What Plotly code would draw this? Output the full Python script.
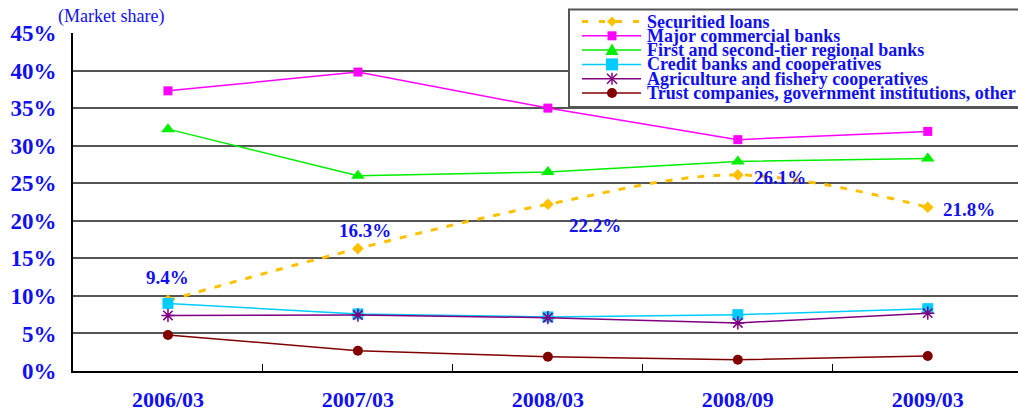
import plotly.graph_objects as go

periods = ["2006/03", "2007/03", "2008/03", "2008/09", "2009/03"]

securitized = [9.4, 16.3, 22.2, 26.1, 21.8]
major_banks = [37.3, 39.8, 35.0, 30.8, 31.9]
regional_banks = [32.2, 26.0, 26.5, 27.9, 28.3]
credit_banks = [9.0, 7.6, 7.2, 7.5, 8.3]
agri_coops = [7.4, 7.45, 7.1, 6.4, 7.7]
trust_other = [4.8, 2.7, 1.9, 1.5, 2.0]

series_names = [
    "Securitied loans",
    "Major commercial banks",
    "First and second-tier regional banks",
    "Credit banks and cooperatives",
    "Agriculture and fishery cooperatives",
    "Trust companies, government institutions, other",
]

y_ticks = [0, 5, 10, 15, 20, 25, 30, 35, 40, 45]

SERIF = "Liberation Serif"
BLUE = "#1010f0"
GOLD = "#ffc000"
MAGENTA = "#ff00ff"
GREEN = "#00ee00"
CYAN = "#00ccff"
PURPLE = "#800080"
MAROON = "#800000"

# plot-area geometry in pixels
W, H = 1018, 412
ML, MT, MB = 73, 33, 41
PW, PH = W - ML, H - MT - MB


def xp(px):
    return (px - ML) / PW


def yp(py):
    return (H - MB - py) / PH


fig = go.Figure()

fig.add_trace(go.Scatter(
    x=periods, y=securitized, name=series_names[0], mode="lines+markers",
    line=dict(color=GOLD, width=3, dash="7px,9px", shape="spline", smoothing=1.0),
    marker=dict(symbol="diamond", size=9, color=GOLD),
))
fig.add_trace(go.Scatter(
    x=periods, y=major_banks, name=series_names[1], mode="lines+markers",
    line=dict(color=MAGENTA, width=1.5),
    marker=dict(symbol="square", size=9, color=MAGENTA),
))
fig.add_trace(go.Scatter(
    x=periods, y=regional_banks, name=series_names[2], mode="lines+markers",
    line=dict(color=GREEN, width=1.5),
    marker=dict(symbol="triangle-up", size=12, color=GREEN),
))
fig.add_trace(go.Scatter(
    x=periods, y=credit_banks, name=series_names[3], mode="lines+markers",
    line=dict(color=CYAN, width=1.5),
    marker=dict(symbol="square", size=11, color=CYAN),
))
fig.add_trace(go.Scatter(
    x=periods, y=agri_coops, name=series_names[4], mode="lines+markers",
    line=dict(color=PURPLE, width=1.5),
    marker=dict(symbol="asterisk-open", size=11, color=PURPLE, line=dict(width=1.5, color=PURPLE)),
))
fig.add_trace(go.Scatter(
    x=periods, y=trust_other, name=series_names[5], mode="lines+markers",
    line=dict(color=MAROON, width=1.5),
    marker=dict(symbol="circle", size=10, color=MAROON),
))

# value labels for the securitized-loans series
label_offsets = [
    dict(xanchor="center", xshift=0, yshift=23),
    dict(xanchor="center", xshift=7, yshift=18),
    dict(xanchor="center", xshift=47, yshift=-21),
    dict(xanchor="left", xshift=14, yshift=-3),
    dict(xanchor="left", xshift=13, yshift=-2),
]
for p, v, off in zip(periods, securitized, label_offsets):
    fig.add_annotation(
        x=p, y=v, text=f"{v:.1f}%", showarrow=False,
        font=dict(family=SERIF, size=19, color=BLUE, weight="bold"),
        yanchor="middle", **off,
    )

# axis caption above the value axis
fig.add_annotation(
    xref="paper", yref="paper", x=xp(111), y=yp(17),
    text="(Market share)", showarrow=False, xanchor="center", yanchor="middle",
    font=dict(family=SERIF, size=18, color=BLUE),
)

# legend box drawn as a compact key
shapes = [dict(
    type="rect", xref="paper", yref="paper", layer="above",
    x0=xp(569), x1=xp(1022), y0=yp(107), y1=yp(9.5),
    fillcolor="white", line=dict(color="#555555", width=2),
)]

row_y = [21.5, 35.8, 50.1, 64.4, 78.7, 93.0]
line_x0, line_x1, mark_x, text_x = 582, 641, 612, 645
styles = [
    (GOLD, "diamond"), (MAGENTA, "square"), (GREEN, "triangle"),
    (CYAN, "bigsquare"), (PURPLE, "asterisk"), (MAROON, "circle"),
]


def path(points):
    return "M " + " L ".join(f"{xp(a):.5f},{yp(b):.5f}" for a, b in points) + " Z"


for (color, kind), ry, name in zip(styles, row_y, series_names):
    if kind == "diamond":
        shapes.append(dict(type="line", xref="paper", yref="paper", layer="above",
                           x0=xp(line_x0), x1=xp(line_x1), y0=yp(ry), y1=yp(ry),
                           line=dict(color=color, width=3, dash="6px,11px")))
        shapes.append(dict(type="path", xref="paper", yref="paper", layer="above",
                           path=path([(mark_x - 5, ry), (mark_x, ry - 5), (mark_x + 5, ry), (mark_x, ry + 5)]),
                           fillcolor=color, line=dict(width=0)))
    else:
        shapes.append(dict(type="line", xref="paper", yref="paper", layer="above",
                           x0=xp(line_x0), x1=xp(line_x1), y0=yp(ry), y1=yp(ry),
                           line=dict(color=color, width=1.5)))
        if kind == "square":
            s = 4.5
            shapes.append(dict(type="rect", xref="paper", yref="paper", layer="above",
                               x0=xp(mark_x - s), x1=xp(mark_x + s), y0=yp(ry + s), y1=yp(ry - s),
                               fillcolor=color, line=dict(width=0)))
        elif kind == "bigsquare":
            s = 6
            shapes.append(dict(type="rect", xref="paper", yref="paper", layer="above",
                               x0=xp(mark_x - s), x1=xp(mark_x + s), y0=yp(ry + s), y1=yp(ry - s),
                               fillcolor=color, line=dict(width=0)))
        elif kind == "triangle":
            shapes.append(dict(type="path", xref="paper", yref="paper", layer="above",
                               path=path([(mark_x - 6.5, ry + 5), (mark_x, ry - 6.5), (mark_x + 6.5, ry + 5)]),
                               fillcolor=color, line=dict(width=0)))
        elif kind == "asterisk":
            for dx, dy in [(0, 6), (5, 5), (-5, 5)]:
                shapes.append(dict(type="line", xref="paper", yref="paper", layer="above",
                                   x0=xp(mark_x - dx), x1=xp(mark_x + dx),
                                   y0=yp(ry - dy), y1=yp(ry + dy),
                                   line=dict(color=color, width=1.5)))
        elif kind == "circle":
            r = 5
            shapes.append(dict(type="circle", xref="paper", yref="paper", layer="above",
                               x0=xp(mark_x - r), x1=xp(mark_x + r), y0=yp(ry + r), y1=yp(ry - r),
                               fillcolor=color, line=dict(width=0)))
    fig.add_annotation(
        xref="paper", yref="paper", x=xp(text_x), y=yp(ry),
        text=name, showarrow=False, xanchor="left", yanchor="middle",
        font=dict(family=SERIF, size=18, color=BLUE, weight="bold"),
    )

fig.update_layout(
    width=W, height=H,
    margin=dict(l=ML, r=0, t=MT, b=MB, autoexpand=False),
    paper_bgcolor="white", plot_bgcolor="white",
    showlegend=False,
    shapes=shapes,
    xaxis=dict(
        type="category", range=[-0.5, 4.475], automargin=False,
        showgrid=False, showline=True, linecolor="black", linewidth=2,
        tickson="boundaries", ticks="inside", ticklen=7, tickcolor="black",
        tickfont=dict(family=SERIF, size=22, color=BLUE, weight="bold"),
        ticklabelstandoff=8,
    ),
    yaxis=dict(
        range=[0, 45], tickvals=y_ticks, ticktext=[f"{t}%" for t in y_ticks],
        automargin=False,
        showgrid=True, gridcolor="#555555", gridwidth=1.5,
        showline=True, linecolor="black", linewidth=2,
        zeroline=False, ticks="",
        tickfont=dict(family=SERIF, size=23, color=BLUE, weight="bold"),
        ticklabelstandoff=10,
    ),
)

fig.write_html("out.html")
